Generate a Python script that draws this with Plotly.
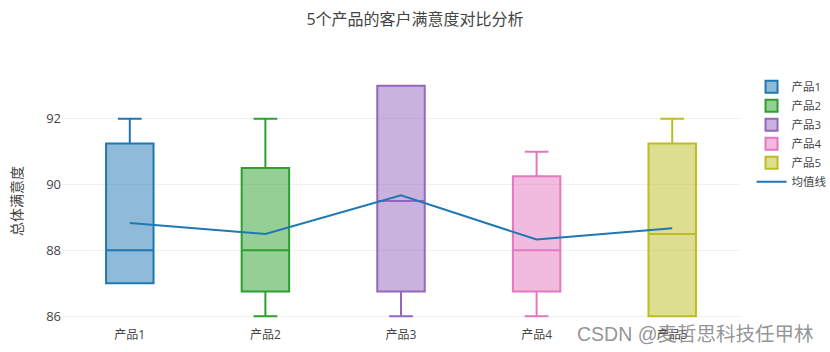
import plotly.graph_objects as go

products = ["产品1", "产品2", "产品3", "产品4", "产品5"]
colors = ["#1f77b4", "#2ca02c", "#9467bd", "#e377c2", "#bcbd22"]
lower_fence = [87, 86, 86, 86, 86]
q1 = [87, 86.75, 86.75, 86.75, 86]
median = [88, 88, 89.5, 88, 88.5]
q3 = [91.25, 90.5, 93, 90.25, 91.25]
upper_fence = [92, 92, 93, 91, 92]
means = [88.83, 88.5, 89.67, 88.33, 88.67]

fig = go.Figure()
for i, p in enumerate(products):
    fig.add_trace(go.Box(
        x=[p], name=p,
        q1=[q1[i]], median=[median[i]], q3=[q3[i]],
        lowerfence=[lower_fence[i]], upperfence=[upper_fence[i]],
        marker_color=colors[i], line=dict(color=colors[i], width=2),
    ))

fig.add_trace(go.Scatter(
    x=products, y=means, mode="lines", name="均值线",
    line=dict(color="#1f77b4", width=2),
))

font_family = "Open Sans, Noto Sans CJK SC, sans-serif"
fig.update_layout(
    width=830, height=352,
    template="plotly_white",
    font=dict(family=font_family, size=12, color="#444"),
    title=dict(text="5个产品的客户满意度对比分析", x=0.5, xanchor="center",
               y=1 - 19 / 352, yanchor="middle", font=dict(size=16, color="#444")),
    margin=dict(l=62, r=90, t=76, b=26, autoexpand=False),
    boxgap=0.5,
    showlegend=True,
    legend=dict(x=1.017, y=1.015, xanchor="left", yanchor="top",
                font=dict(size=11.5), tracegroupgap=0),
    yaxis=dict(title=dict(text="总体满意度", font=dict(size=14), standoff=20),
               range=[85.7, 93.3], tickvals=[86, 88, 90, 92],
               gridcolor="#f0f0f0", zeroline=False,
               tickfont=dict(size=13), automargin=False),
    xaxis=dict(showgrid=False, tickfont=dict(size=12), automargin=False),
    plot_bgcolor="white", paper_bgcolor="white",
)

fig.add_annotation(
    text="CSDN @麦哲思科技任甲林", xref="paper", yref="paper",
    x=1.11, y=-0.03, xanchor="right", yanchor="middle", showarrow=False,
    font=dict(size=19.5, color="rgba(120,120,120,0.8)", family="Liberation Sans, Noto Sans CJK SC, sans-serif"),
)

fig.write_html("out.html")
